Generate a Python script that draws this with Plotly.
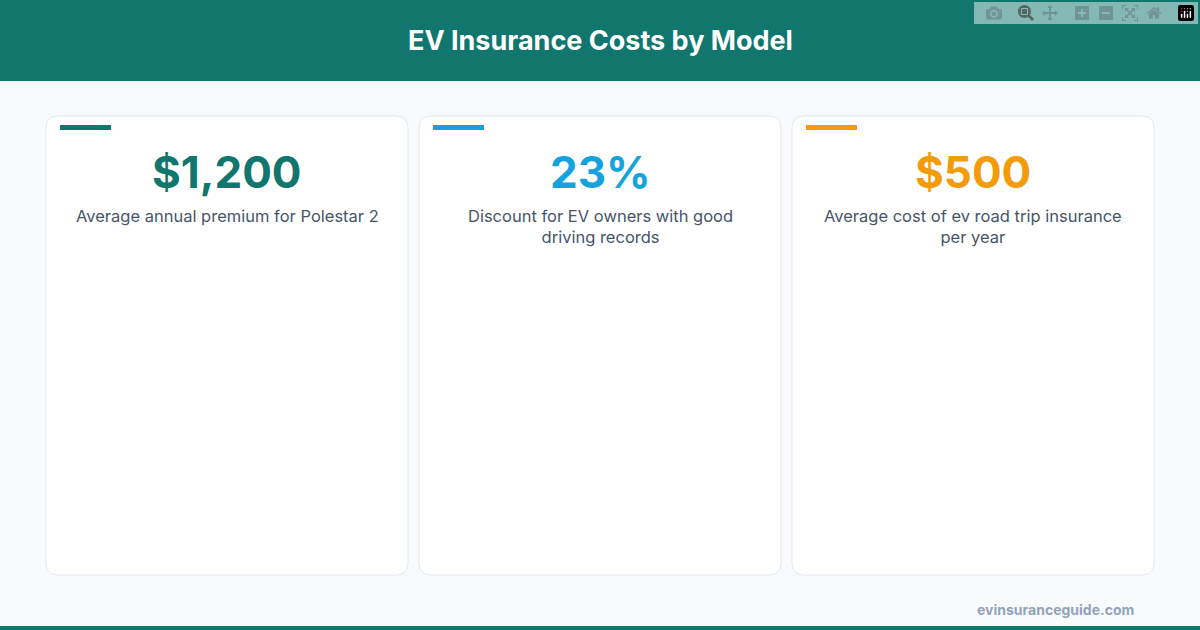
import plotly.graph_objects as go

title = "EV Insurance Costs by Model"
values = ["$1,200", "23%", "$500"]
labels = ["Average annual premium for Polestar 2",
          "Discount for EV owners with good<br>driving records",
          "Average cost of ev road trip insurance<br>per year"]
accents = ["#11766d", "#14a3dd", "#f29c0c"]
source = "evinsuranceguide.com"

W, H = 1200, 630
TEAL = "#10766e"
FONT = "Inter, Noto Sans, sans-serif"


def px(x, y):
    return x / W, 1 - y / H


def rounded(x0, y0, x1, y1, r):
    # path in paper coords built from pixel box
    a, b = px(x0, y0)
    c, d = px(x1, y1)
    rx, ry = r / W, r / H
    return (f"M {a+rx},{b} L {c-rx},{b} Q {c},{b} {c},{b-ry} "
            f"L {c},{d+ry} Q {c},{d} {c-rx},{d} L {a+rx},{d} "
            f"Q {a},{d} {a},{d+ry} L {a},{b-ry} Q {a},{b} {a+rx},{b} Z")


fig = go.Figure()
shapes = []
annotations = []

# header band and bottom strip
shapes.append(dict(type="rect", xref="paper", yref="paper", x0=0, x1=1,
                   y0=1 - 81 / H, y1=1, fillcolor=TEAL, line_width=0, layer="below"))
shapes.append(dict(type="rect", xref="paper", yref="paper", x0=0, x1=1,
                   y0=0, y1=4 / H, fillcolor=TEAL, line_width=0, layer="below"))
annotations.append(dict(text=f"<b>{title}</b>", x=0.5, y=1 - 41 / H, xref="paper", yref="paper",
                        xanchor="center", yanchor="middle",
                        showarrow=False, font=dict(size=27, color="white", family=FONT)))

card_left = [46, 419, 792]
for i, (v, lab, col) in enumerate(zip(values, labels, accents)):
    x0 = card_left[i]
    x1 = x0 + 362
    shapes.append(dict(type="path", xref="paper", yref="paper", path=rounded(x0, 116, x1, 575, 12),
                       fillcolor="white", line=dict(color="#e2e8f0", width=1)))
    a, b = px(x0 + 14, 125)
    c, d = px(x0 + 65, 130)
    shapes.append(dict(type="rect", xref="paper", yref="paper", x0=a, x1=c, y0=d, y1=b,
                       fillcolor=col, line_width=0))
    cx = (x0 + x1) / 2 / W
    annotations.append(dict(text=f"<b>{v}</b>", x=cx, y=1 - 172 / H, xref="paper", yref="paper",
                            xanchor="center", yanchor="middle",
                            showarrow=False, font=dict(size=44, color=col, family=FONT)))
    annotations.append(dict(text=lab, x=cx, y=1 - 204 / H, xref="paper", yref="paper",
                            xanchor="center", yanchor="top", showarrow=False, align="center",
                            font=dict(size=16.5, color="#475569", family=FONT)))

annotations.append(dict(text=f"<b>{source}</b>", x=1136 / W, y=1 - 609 / H, xref="paper", yref="paper",
                        xanchor="right", yanchor="middle", showarrow=False,
                        font=dict(size=14, color="#94a3b8", family=FONT)))

fig.update_layout(width=W, height=H, margin=dict(l=0, r=0, t=0, b=0),
                  paper_bgcolor="#f8fafc", plot_bgcolor="#f8fafc",
                  xaxis=dict(visible=False), yaxis=dict(visible=False),
                  shapes=shapes, annotations=annotations, showlegend=False)
fig.write_html("out.html", post_script="document.body.style.margin='0';")
